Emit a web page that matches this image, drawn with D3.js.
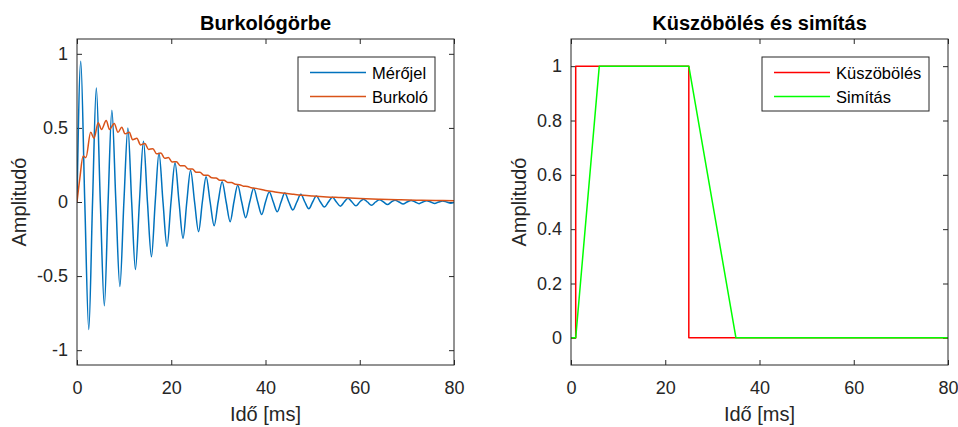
<!DOCTYPE html>
<html>
<head>
<meta charset="utf-8">
<script src="https://cdn.jsdelivr.net/npm/d3@7"></script>
<style>
	body { margin: 0; background: #fff; }
	svg { font-family: 'Liberation Sans', Arial, Helvetica, sans-serif; }
</style>
</head>
<body>
<svg id="chart" width="958" height="427"></svg>
<script>
// bal oldali ábra: mért jel (szélsőértékek és nullátmenetek), burkoló
var signalTime = [0, 0.8, 1.65, 2.5, 3.3, 4.1, 4.95, 5.8, 6.6, 7.4, 8.25, 9.1, 9.95, 10.8, 11.6, 12.4, 13.25, 14.1, 14.95, 15.8,
	16.6, 17.4, 18.25, 19.1, 19.95, 20.8, 21.65, 22.5, 23.3, 24.1, 24.95, 25.8, 26.6, 27.4, 28.25, 29.1, 29.95, 30.8, 31.65, 32.5,
	33.3, 34.1, 34.95, 35.8, 36.65, 37.5, 38.35, 39.2, 40, 40.8, 41.65, 42.5, 43.3, 44.1, 44.95, 45.8, 46.65, 47.5, 48.35, 49.2,
	50, 50.8, 51.65, 52.5, 53.35, 54.2, 55.05, 55.9, 56.7, 57.5, 58.35, 59.2, 60, 60.8, 61.65, 62.5, 63.35, 64.2, 65.05, 65.9,
	66.7, 67.5, 68.35, 69.2, 70.05, 70.9, 71.75, 72.6, 73.4, 74.2, 75.05, 75.9, 76.75, 77.6, 78.45, 79.3, 80];
var signalValue = [0, 0.95, 0, -0.86, 0, 0.77, 0, -0.70, 0, 0.62, 0, -0.57, 0, 0.50, 0, -0.455, 0, 0.41, 0, -0.37,
	0, 0.33, 0, -0.30, 0, 0.265, 0, -0.245, 0, 0.215, 0, -0.20, 0, 0.17, 0, -0.16, 0, 0.137, 0, -0.133,
	0, 0.113, 0, -0.106, 0, 0.092, 0, -0.085, 0, 0.068, 0, -0.066, 0, 0.06, 0, -0.054, 0, 0.052, 0, -0.046,
	0, 0.04, 0, -0.034, 0, 0.032, 0, -0.028, 0, 0.025, 0, -0.026, 0, 0.019, 0, -0.022, 0, 0.015, 0, -0.017,
	0, 0.012, 0, -0.014, 0, 0.01, 0, -0.011, 0, 0.008, 0, -0.01, 0, 0.007, 0, -0.008, -0.004];

var envTime = [0, 0.6, 1.3, 1.9, 2.9, 3.6, 4.5, 5.2, 6.2, 6.9, 7.9, 8.7, 9.5, 10.2, 11.1, 11.8, 12.7, 13.5, 14.4, 15.2,
	16.1, 16.9, 17.8, 18.6, 19.4, 20.2, 21.1, 21.9, 22.8, 23.6, 24.5, 25.3, 26.1, 26.9, 27.8, 28.6, 29.5, 30.3, 31.2, 32,
	32.8, 33.6, 34.5, 35.3, 36.2, 37, 38, 40, 42, 44, 46, 48, 50, 53, 56, 60, 64, 68, 72, 76, 80];
var envValue = [0, 0.16, 0.31, 0.30, 0.47, 0.43, 0.535, 0.49, 0.55, 0.49, 0.53, 0.47, 0.505, 0.46, 0.47, 0.42, 0.43, 0.385, 0.395, 0.355,
	0.36, 0.325, 0.33, 0.295, 0.30, 0.27, 0.272, 0.245, 0.245, 0.222, 0.222, 0.2, 0.2, 0.181, 0.18, 0.163, 0.162, 0.147, 0.146, 0.132,
	0.131, 0.119, 0.117, 0.107, 0.105, 0.096, 0.092, 0.078, 0.068, 0.059, 0.052, 0.045, 0.04, 0.034, 0.03, 0.024, 0.019, 0.015, 0.012, 0.01, 0.009];

// jobb oldali ábra: küszöbölés és simítás
var threshTime = [0, 1, 1, 25, 25, 80];
var threshValue = [0, 0, 1, 1, 0, 0];
var smoothTime = [0, 1, 6, 25, 35, 80];
var smoothValue = [0, 0, 1, 1, 0, 0];

var xTicks = [0, 20, 40, 60, 80];
var leftYTicks = [-1, -0.5, 0, 0.5, 1];
var rightYTicks = [0, 0.2, 0.4, 0.6, 0.8, 1];

var axisColor = '#262626';
var svg = d3.select('#chart');

var zip = function (xs, ys) {
	return xs.map(function (x, i) { return [x, ys[i]]; });
};

var drawPanel = function (opt) {
	var left = opt.left, top = 39, width = 377, height = 326;
	var g = svg.append('g').attr('transform', 'translate(' + left + ',' + top + ')');

	var x = d3.scaleLinear().domain([0, 80]).range([0, width]);
	var y = d3.scaleLinear().domain(opt.yDomain).range([height, 0]);

	g.append('clipPath').attr('id', opt.id + '-clip')
		.append('rect').attr('width', width).attr('height', height);

	var fmt = function (d) { return String(d); };

	var styleAxis = function (sel) {
		sel.selectAll('path').remove();
		sel.selectAll('line').attr('stroke', axisColor);
		sel.selectAll('text')
			.attr('fill', axisColor)
			.style('font-size', '18px')
			.style('font-family', "'Liberation Sans', Arial, sans-serif");
	};

	g.append('g').attr('transform', 'translate(0,' + height + ')')
		.call(d3.axisBottom(x).tickValues(xTicks).tickFormat(fmt).tickSizeInner(-5).tickSizeOuter(0).tickPadding(16))
		.call(styleAxis);
	g.append('g')
		.call(d3.axisTop(x).tickValues(xTicks).tickFormat('').tickSizeInner(-5).tickSizeOuter(0))
		.call(styleAxis);
	g.append('g')
		.call(d3.axisLeft(y).tickValues(opt.yTicks).tickFormat(fmt).tickSizeInner(-5).tickSizeOuter(0).tickPadding(9))
		.call(styleAxis);
	g.append('g').attr('transform', 'translate(' + width + ',0)')
		.call(d3.axisRight(y).tickValues(opt.yTicks).tickFormat('').tickSizeInner(-5).tickSizeOuter(0))
		.call(styleAxis);

	var line = d3.line()
		.x(function (d) { return x(d[0]); })
		.y(function (d) { return y(d[1]); });

	var plot = g.append('g').attr('clip-path', 'url(#' + opt.id + '-clip)');
	opt.series.forEach(function (s) {
		plot.append('path')
			.datum(s.data)
			.attr('fill', 'none')
			.attr('stroke', s.color)
			.attr('stroke-width', 1.5)
			.attr('stroke-linejoin', 'round')
			.attr('d', line.curve(s.curve || d3.curveLinear));
	});

	g.append('rect')
		.attr('width', width).attr('height', height)
		.attr('fill', 'none').attr('stroke', axisColor).attr('stroke-width', 1);

	// feliratok
	g.append('text')
		.attr('x', width / 2).attr('y', -9)
		.attr('text-anchor', 'middle')
		.attr('font-weight', 'bold').attr('font-size', 20).attr('fill', '#000')
		.text(opt.title);
	g.append('text')
		.attr('x', width / 2).attr('y', height + 56)
		.attr('text-anchor', 'middle')
		.attr('font-size', 20).attr('fill', axisColor)
		.text('Idő [ms]');
	g.append('text')
		.attr('transform', 'translate(' + opt.yLabelX + ',' + height / 2 + ') rotate(-90)')
		.attr('text-anchor', 'middle')
		.attr('font-size', 20).attr('fill', axisColor)
		.text('Amplitudó');

	// jelmagyarázat
	var lg = g.append('g').attr('transform', 'translate(' + opt.legendX + ',18)');
	lg.append('rect')
		.attr('width', opt.legendW).attr('height', 54)
		.attr('fill', '#fff').attr('stroke', axisColor).attr('stroke-width', 1);
	opt.series.forEach(function (s, i) {
		var ly = 15.5 + i * 24;
		lg.append('line')
			.attr('x1', 12).attr('x2', 68).attr('y1', ly).attr('y2', ly)
			.attr('stroke', s.color).attr('stroke-width', 1.5);
		lg.append('text')
			.attr('x', 74).attr('y', ly + 6)
			.attr('font-size', 16.5).attr('fill', '#000')
			.text(s.name);
	});
};

drawPanel({
	id: 'burk',
	left: 77,
	title: 'Burkológörbe',
	yDomain: [-1.1, 1.1],
	yTicks: leftYTicks,
	yLabelX: -51,
	legendX: 221,
	legendW: 137,
	series: [
		{ name: 'Mérőjel', color: '#0072BD', data: zip(signalTime, signalValue), curve: d3.curveMonotoneX },
		{ name: 'Burkoló', color: '#D95319', data: zip(envTime, envValue), curve: d3.curveMonotoneX }
	]
});

drawPanel({
	id: 'kusz',
	left: 571,
	title: 'Küszöbölés és simítás',
	yDomain: [-0.1, 1.1],
	yTicks: rightYTicks,
	yLabelX: -45,
	legendX: 191,
	legendW: 167,
	series: [
		{ name: 'Küszöbölés', color: '#FF0000', data: zip(threshTime, threshValue) },
		{ name: 'Simítás', color: '#00FF00', data: zip(smoothTime, smoothValue) }
	]
});
</script>
</body>
</html>
